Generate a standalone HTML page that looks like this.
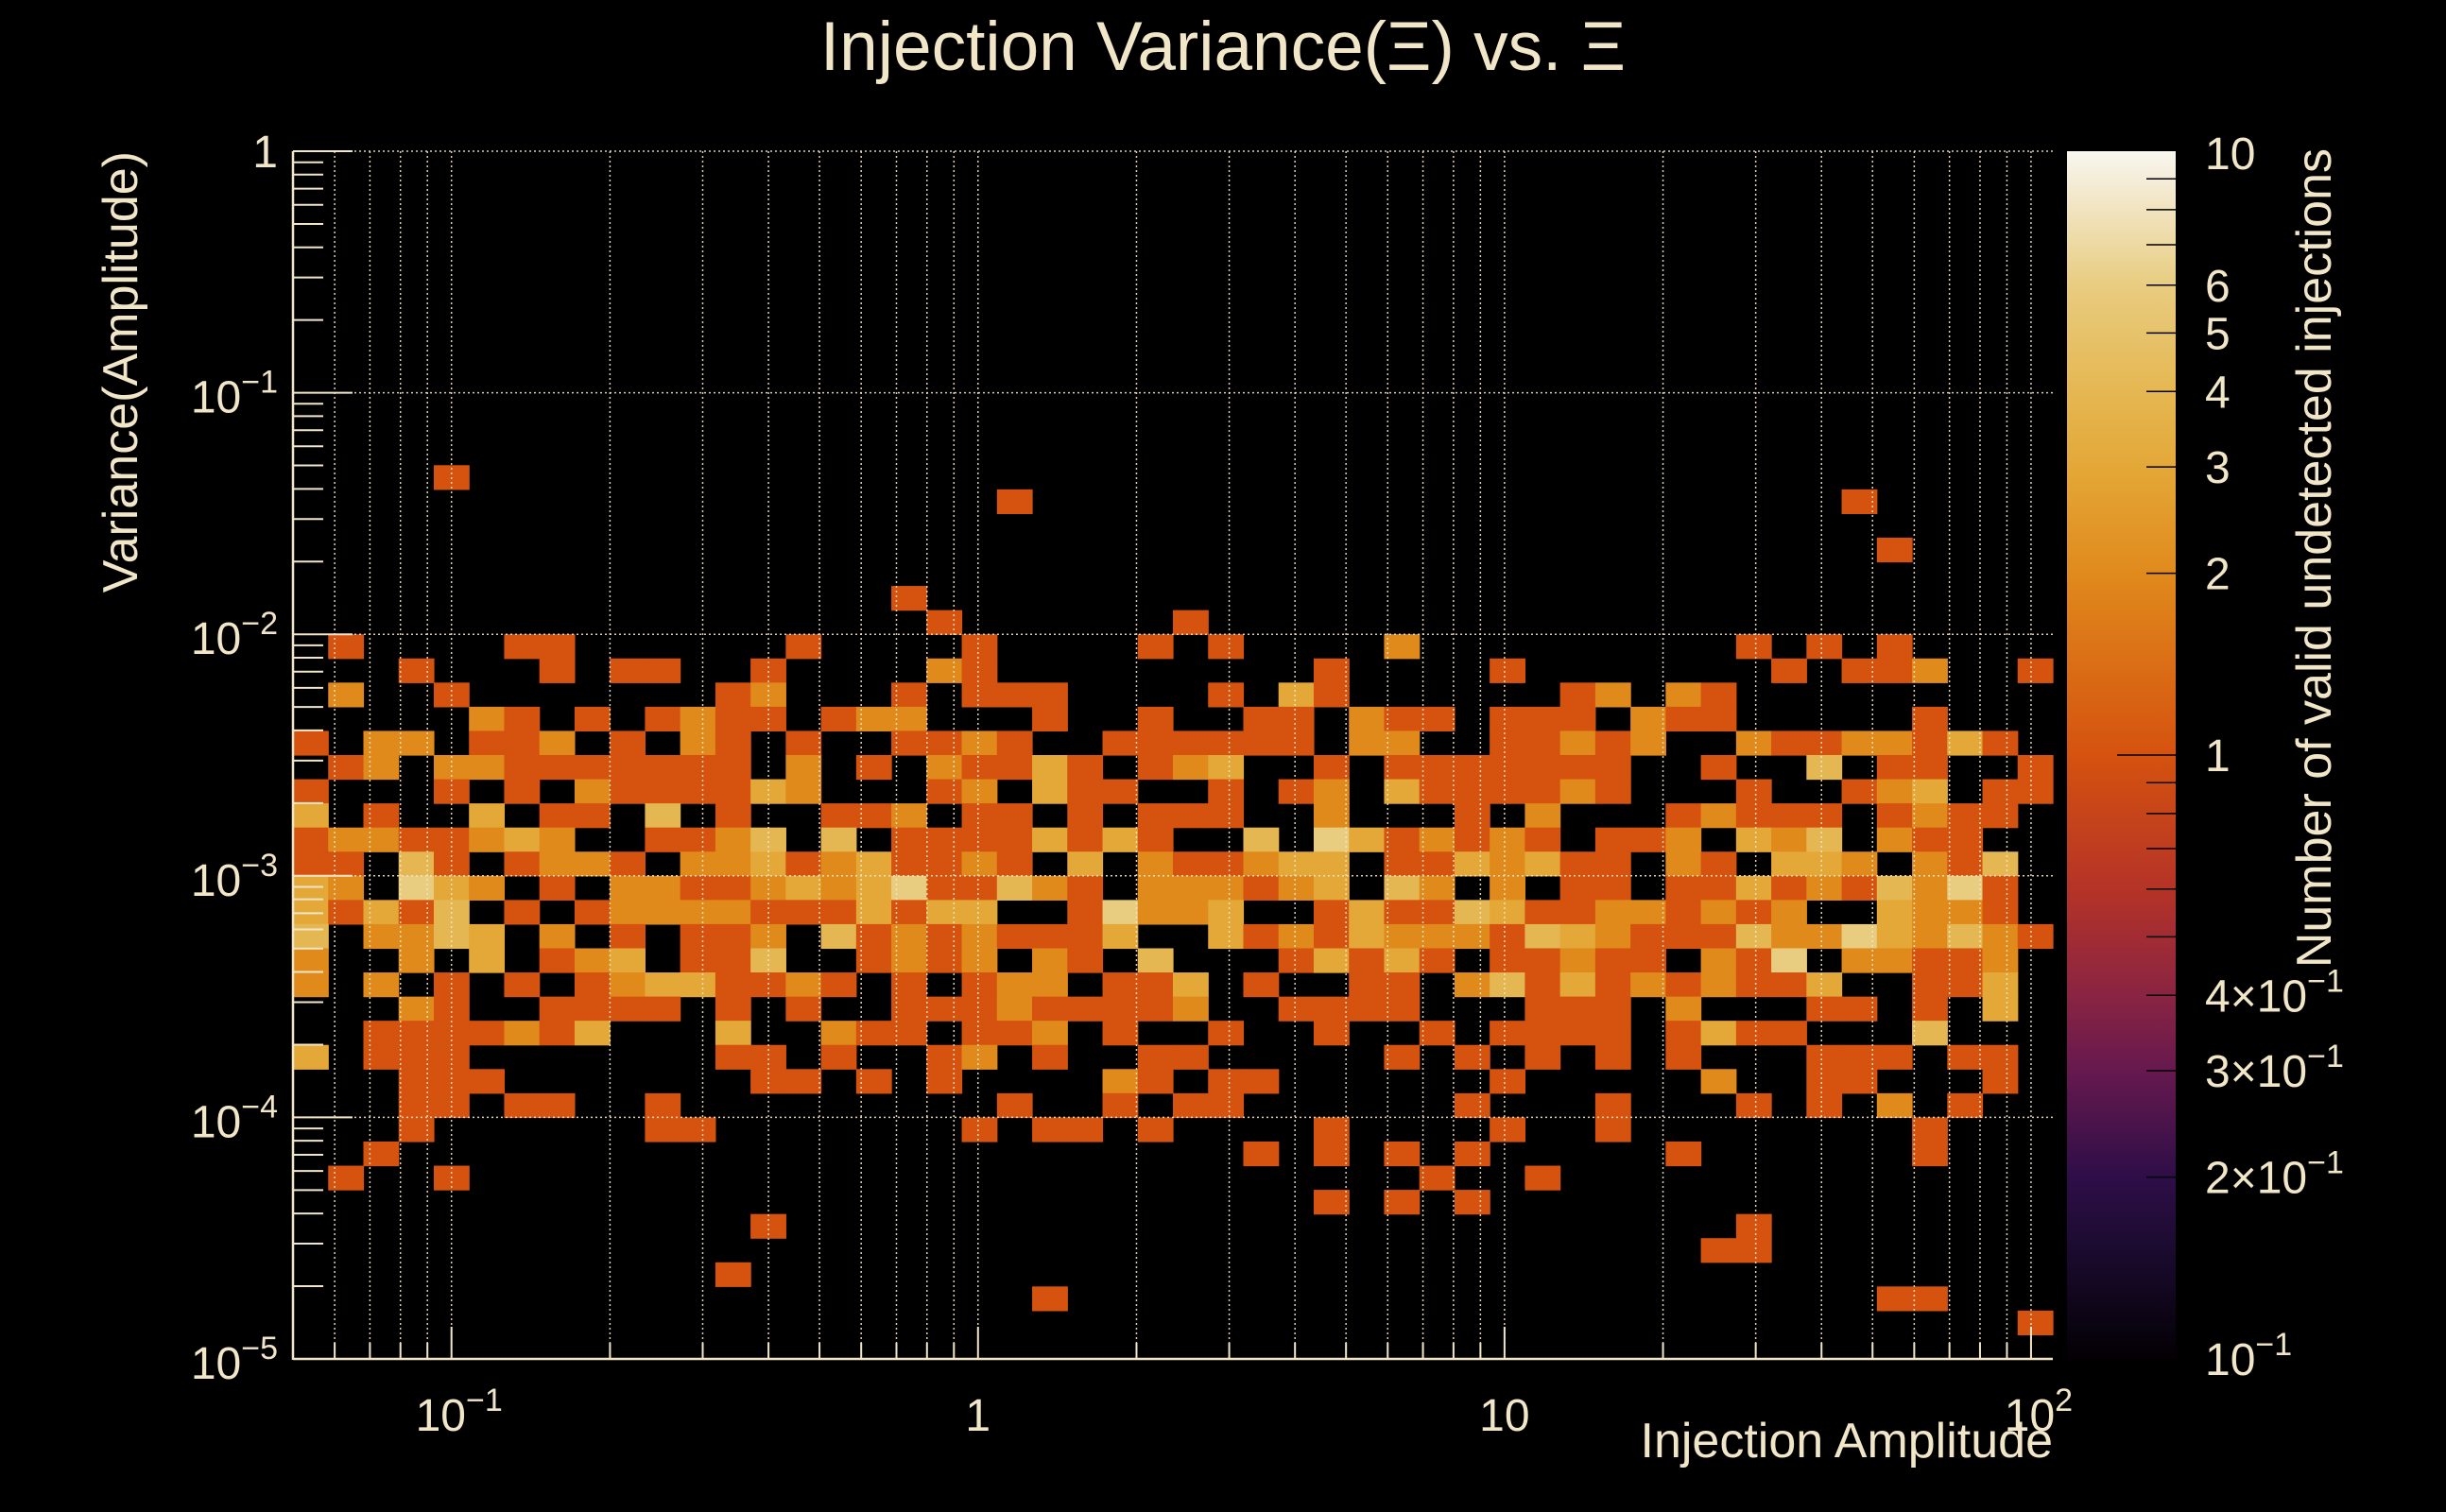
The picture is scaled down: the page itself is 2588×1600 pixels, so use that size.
<!DOCTYPE html>
<html><head><meta charset="utf-8">
<style>
html,body{margin:0;padding:0;background:#000;}
svg{display:block;font-family:"Liberation Sans",Arial,sans-serif;}
</style></head>
<body>
<svg id="chart" width="2588" height="1600" viewBox="0 0 2588 1600" xmlns="http://www.w3.org/2000/svg">
<defs>
<linearGradient id="cbgrad" x1="0" y1="1" x2="0" y2="0"></linearGradient>
</defs>
<rect x="0" y="0" width="2588" height="1600" fill="#000"/>
<text x="1294" y="74" fill="#f2e6c8" font-size="73" text-anchor="middle">Injection Variance(Ξ) vs. Ξ</text>
<g id="cells"></g>
<g id="grid"></g>
<g id="axes"></g>
<g id="cbar"></g>
<text x="2172" y="1542" fill="#f2e6c8" font-size="52" text-anchor="end">Injection Amplitude</text>
<text transform="translate(145,160) rotate(-90)" fill="#f2e6c8" font-size="52" text-anchor="end">Variance(Amplitude)</text>
<text transform="translate(2466,157) rotate(-90)" fill="#f2e6c8" font-size="52" text-anchor="end">Number of valid undetected injections</text>
</svg>
<script>
// ---- data (50 x-bins, 50 y-bins; rows listed from top y-bin 49 down to 0) ----
const xMin = 0.05, xMax = 110, nX = 50;
const yMin = 1e-5, yMax = 1, nY = 50;
const zMin = 0.1, zMax = 10;
const E = ".......... .......... .......... .......... ..........";
const rowsTop = [
E,E,E,E,E,E,E,E,E,E,E,E,E,               // j=49..37
"....1..... .......... .......... .......... ..........", // j=36
".......... .......... 1......... .......... ....1.....", // j=35
E,                                                        // j=34
".......... .......... .......... .......... .....1....", // j=33
E,                                                        // j=32
".......... .......1.. .......... .......... ..........", // j=31
".......... ........1. .....1.... .......... .........."  // j=30
];
const rowsMain = [
".1....11.. ....1....1 ....1.1... .2........ .1.1.1....",
"...1...1.1 1..1....21 .........1 ....1..... ..1.112..1",
".2..1..... ..12...1.1 11....1.31 ......12.2 1.........",
".....21.1. 1211.122.. .1..1..11. 211.111.21 1.....1...",
"1.22.112.1 .21.1..112 1..111111. 22..11212. .21122131.",
".12.221111 111.2.1.21 131.123..1 .1111111.. 1..4.11..1",
"1...1.1.21 11132...12 .311..1.12 .3111121.. .1..123.11",
"3.1..3.11. 4.1..112.1 1.1.111..2 ...1.2...1 2111.1211.",
"12211232.. 1124.4.111 13131..4.6 312121.112 .324.211..",
"11.41.1221 .223123112 1.3.211233 .1132311.2 1.332.214.",
"32.632.1.2 2112323611 421.222123 .42.2.11.1 131214261.",
"31314.1.12 2221113133 ..16223..1 3114311221 212..3221.",
"4.2243.2.1 .112.41212 1113..3121 3222143211 1422632421",
"2..2.3.123 .114..1212 .21.4...13 131.11211. 216.22112.",
"2.2.1.1.12 331121.1.1 22.113.1.. 11.2413121 2113..113.",
"...21..111 1.1.1..111 211112..11 11...111.2 ...11.1.3.",
"..1111213. ..3..211.1 12.1..1..1 ..1.1111.1 311...4...",
"3.111..... ..11.1..12 .1..11.... .1.1.1.1.1 ...111.11.",
"...111.... ...11.1.1. ...21.11.. ....1..... 2..11...1.",
"...11.11.. 1......... 1..1.11... ...1...1.. .1.1.2.1..",
"...1...... 11.......1 .11.1....1 ....1..1.. ......1...",
"..1....... .......... .......1.1 .1.1.....1 ......1...",
".1..1..... .......... .......... ..1..1.... ..........",
".......... .......... .........1 .1.1...... ..........",
".......... ...1...... .......... .......... .1........",
".......... .......... .......... .......... 11........",
".......... ..1....... .......... .......... ..........",
".......... .......... .1........ .......... .....11...",
".......... .......... .......... .......... .........1",
E
];
const xTickVals = [0.1, 1, 10, 100];
const xTickBase = ["10", "1", "10", "10"];
const xTickExp = ["−1", "", "", "2"];
const yTickVals = [1, 0.1, 0.01, 0.001, 0.0001, 0.00001];
const yTickExp = ["", "−1", "−2", "−3", "−4", "−5"];
const zTickVals = [10, 6, 5, 4, 3, 2, 1, 0.4, 0.3, 0.2, 0.1];
const zTickLabels = ["10", "6", "5", "4", "3", "2", "1", "4×10", "3×10", "2×10", "10"];
const zTickExp = ["", "", "", "", "", "", "", "−1", "−1", "−1", "−1"];
const colorStops = [[0.1,"#040004"],[0.15,"#1a0b2e"],[0.2,"#2e0e48"],[0.3,"#66194e"],[0.4,"#8a2442"],[0.6,"#b53327"],[1,"#d5520f"],[2,"#e08a1c"],[3,"#e4a838"],[4,"#e5b752"],[6,"#e8cc80"],[10,"#f8f6f0"]];

// ---- geometry / axis functions ----
const PL = 310, PR = 2172, PT = 160, PB = 1438;
const CBL = 2187, CBR = 2302;
const L10 = Math.log10;
function xPix(v){ return PL + (L10(v) - L10(xMin)) / (L10(xMax) - L10(xMin)) * (PR - PL); }
function yPix(v){ return PB - (L10(v) - L10(yMin)) / (L10(yMax) - L10(yMin)) * (PB - PT); }
function zPix(v){ return PB - (L10(v) - L10(zMin)) / (L10(zMax) - L10(zMin)) * (PB - PT); }
function hex2rgb(h){ return [parseInt(h.substr(1,2),16),parseInt(h.substr(3,2),16),parseInt(h.substr(5,2),16)]; }
function colorFor(v){
  if (v >= colorStops[colorStops.length-1][0]) return colorStops[colorStops.length-1][1];
  for (let i=0;i<colorStops.length-1;i++){
    const a=colorStops[i], b=colorStops[i+1];
    if (v>=a[0] && v<=b[0]){
      const t=(L10(v)-L10(a[0]))/(L10(b[0])-L10(a[0]));
      const ca=hex2rgb(a[1]), cb=hex2rgb(b[1]);
      return "rgb("+ca.map((c,k)=>Math.round(c+(cb[k]-c)*t)).join(",")+")";
    }
  }
  return colorStops[0][1];
}
const NS = "http://www.w3.org/2000/svg";
function mk(tag, attrs, parent){
  const e = document.createElementNS(NS, tag);
  for (const k in attrs) e.setAttribute(k, attrs[k]);
  parent.appendChild(e); return e;
}
const cream = "#f2e6c8";

// ---- cells ----
const rows = rowsTop.concat(rowsMain).map(s => s.replace(/ /g, ""));
const cellsG = document.getElementById("cells");
const dlx = (L10(xMax) - L10(xMin)) / nX, dly = (L10(yMax) - L10(yMin)) / nY;
rows.forEach((row, r) => {
  const j = nY - 1 - r;
  for (let i = 0; i < nX; i++) {
    const ch = row[i];
    if (!ch || ch === ".") continue;
    const val = parseInt(ch, 10);
    const x0 = xPix(Math.pow(10, L10(xMin) + i*dlx)), x1 = xPix(Math.pow(10, L10(xMin) + (i+1)*dlx));
    const y1 = yPix(Math.pow(10, L10(yMin) + j*dly)), y0 = yPix(Math.pow(10, L10(yMin) + (j+1)*dly));
    const c = mk("rect", {x:x0.toFixed(2), y:y0.toFixed(2), width:(x1-x0+0.6).toFixed(2), height:(y1-y0+0.6).toFixed(2), fill:colorFor(val)}, cellsG);
    
    
  }
});

// ---- grid ----
const gridG = document.getElementById("grid");
for (let d = -2; d <= 2; d++) {
  for (let m = 1; m <= 9; m++) {
    const v = m * Math.pow(10, d);
    if (v < xMin || v > xMax) continue;
    const x = xPix(v);
    const g = mk("line", {x1:x, y1:PT, x2:x, y2:PB, stroke:cream, "stroke-width":1.5, "stroke-dasharray":"2 3", opacity:0.9}, gridG);
    
    
  }
}
yTickVals.forEach(v => {
  if (v === yMin) return;
  const y = yPix(v);
  const g = mk("line", {x1:PL, y1:y, x2:PR, y2:y, stroke:cream, "stroke-width":1.5, "stroke-dasharray":"2 3", opacity:0.9}, gridG);
  
  
});

// ---- axes ----
const axG = document.getElementById("axes");
let a = mk("line", {x1:PL, y1:PT, x2:PL, y2:PB+1, stroke:cream, "stroke-width":2.5}, axG);


a = mk("line", {x1:PL, y1:PB, x2:PR, y2:PB, stroke:cream, "stroke-width":2.5}, axG);


for (let d = -2; d <= 2; d++) {
  for (let m = 1; m <= 9; m++) {
    const v = m * Math.pow(10, d);
    if (v < xMin || v > xMax) continue;
    const x = xPix(v), len = m === 1 ? 34 : 17;
    const t = mk("line", {x1:x, y1:PB, x2:x, y2:PB-len, stroke:cream, "stroke-width":2}, axG);
    
    
  }
}
for (let d = -5; d <= 0; d++) {
  for (let m = 1; m <= 9; m++) {
    const v = m * Math.pow(10, d);
    if (v < yMin || v > yMax) continue;
    const y = yPix(v), len = m === 1 ? 63 : 32;
    const t = mk("line", {x1:PL, y1:y, x2:PL+len, y2:y, stroke:cream, "stroke-width":2}, axG);
    
    
  }
}
function label(parent, x, y, base, exp, anchor, name){
  const t = mk("text", {x:x, y:y, fill:cream, "font-size":48, "text-anchor":anchor}, parent);
  
  
  const b = document.createElementNS(NS, "tspan"); b.textContent = base; t.appendChild(b);
  if (exp) {
    const e = document.createElementNS(NS, "tspan");
    e.setAttribute("font-size", 34); e.setAttribute("dy", -21); e.textContent = exp; t.appendChild(e);
  }
  return t;
}
xTickVals.forEach((v, i) => {
  const x = xPix(v) + (xTickExp[i] ? 8 : 0);
  label(axG, x, 1514, xTickBase[i], xTickExp[i], "middle", "x-tick-label");
});
yTickVals.forEach((v, i) => {
  label(axG, 294, yPix(v) + 17 + (yTickExp[i] ? 4 : 0), v === 1 ? "1" : "10", yTickExp[i], "end", "y-tick-label");
});

// ---- colour bar ----
const grad = document.getElementById("cbgrad");
colorStops.forEach(s => {
  const st = document.createElementNS(NS, "stop");
  st.setAttribute("offset", ((L10(s[0]) - L10(zMin)) / (L10(zMax) - L10(zMin))).toFixed(4));
  st.setAttribute("stop-color", s[1]);
  grad.appendChild(st);
});
const cbG = document.getElementById("cbar");
let cb = mk("rect", {x:CBL, y:PT, width:CBR-CBL, height:PB-PT, fill:"url(#cbgrad)"}, cbG);


for (let d = -1; d <= 0; d++) {
  for (let m = 1; m <= 9; m++) {
    const v = m * Math.pow(10, d);
    if (v <= zMin || v >= zMax) continue;
    const y = zPix(v), len = m === 1 ? 62 : 31;
    const t = mk("line", {x1:CBR, y1:y, x2:CBR-len, y2:y, stroke:"#000", "stroke-width":1.5}, cbG);
    
    
  }
}
zTickVals.forEach((v, i) => {
  let y = zPix(v) + 17;
  if (v === zMax) y += 2;
  label(cbG, 2333, y, zTickLabels[i], zTickExp[i], "start", "colorbar-tick-label");
});
</script>
</body></html>
